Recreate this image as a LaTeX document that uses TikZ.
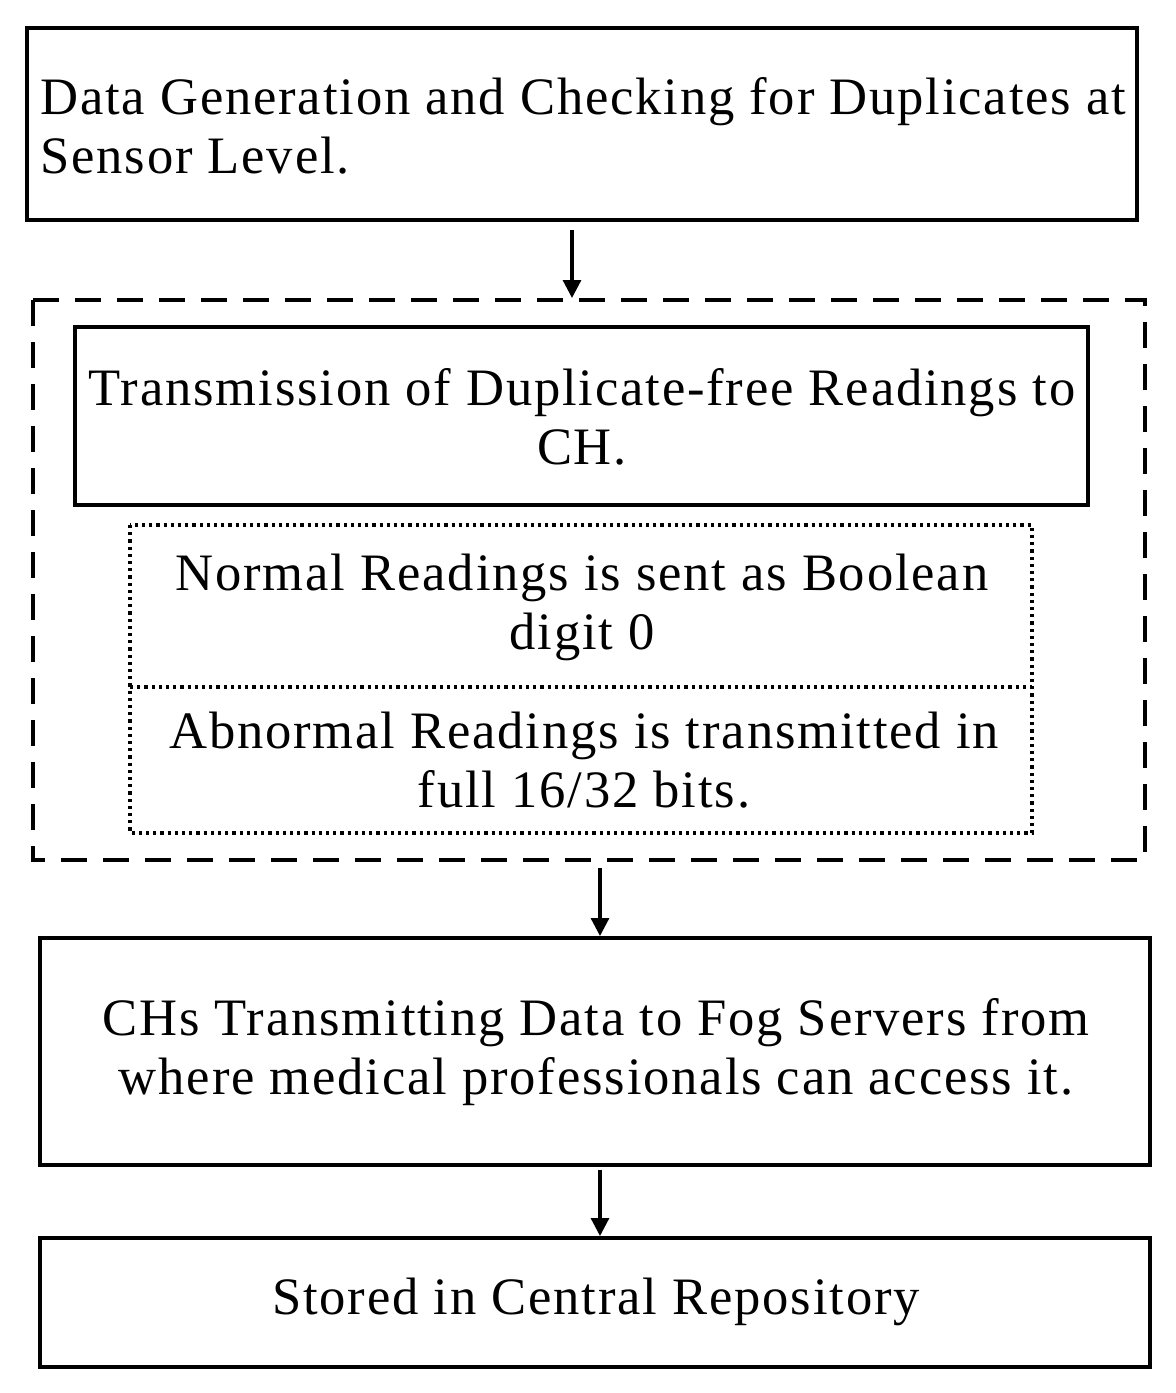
\documentclass[tikz,border=0pt]{standalone}
\usepackage{fontspec}
\setmainfont{Liberation Serif}[LetterSpace=3.5]
\usetikzlibrary{arrows.meta}
\begin{document}
\begin{tikzpicture}[x=0.5pt,y=-0.5pt,
  box/.style={draw,line width=1.6pt},
  txt/.style={font=\fontsize{26.3}{29.5}\selectfont,inner sep=0pt},
  dot/.style={line width=1.6pt,dash pattern=on 1.6pt off 2pt},
  arr/.style={line width=1.6pt,-{Triangle[length=9pt,width=9pt]}}]
\useasboundingbox (0,0) rectangle (1176,1393);
\draw[box] (27,28) rectangle (1137,220);
\node[txt,anchor=west,align=left] (t1) at (40,126) {Data Generation and Checking for Duplicates at\\Sensor Level.};
\draw[line width=1.6pt,dash pattern=on 13pt off 8pt] (33,300) rectangle (1145,860);
\draw[box] (75,327) rectangle (1088,505);
\node[txt,align=center] (t2) at (582,417) {Transmission of Duplicate-free Readings to\\CH.};
\draw[dot] (130,525) rectangle (1032,833);
\draw[dot] (130,687) -- (1032,687);
\node[txt,align=center] (t3) at (582,607) {Normal Readings is sent as Boolean\\digit 0};
\node[txt,align=center] (t4) at (584,760) {Abnormal Readings is transmitted in\\full 16/32 bits.};
\draw[box] (40,938) rectangle (1150,1165);
\node[txt,align=center] (t5) at (596,1052) {CHs Transmitting Data to Fog Servers from\\where medical professionals can access it.};
\draw[box] (40,1238) rectangle (1150,1367);
\node[txt] (t6) at (596,1302) {Stored in Central Repository};
\coordinate (a1) at (572,230); \coordinate (b1) at (572,298);
\coordinate (a2) at (600,868); \coordinate (b2) at (600,936);
\coordinate (a3) at (600,1170); \coordinate (b3) at (600,1236);
\draw[arr] (a1) -- (b1);
\draw[arr] (a2) -- (b2);
\draw[arr] (a3) -- (b3);
\end{tikzpicture}
\end{document}
